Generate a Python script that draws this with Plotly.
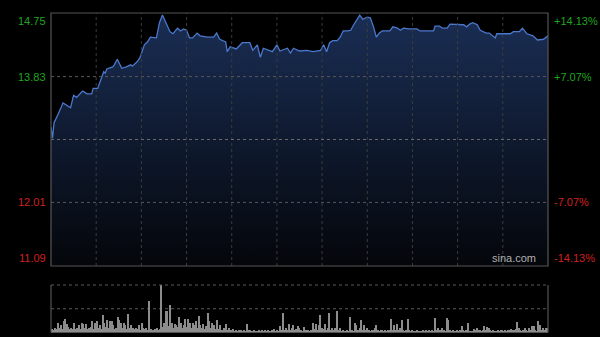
import plotly.graph_objects as go

# ---- data ----
minutes = [0, 1, 2, 4, 5, 8, 11, 13, 15, 17, 21, 24, 27, 28, 31, 33, 35, 36, 37, 41,
           42, 44, 45, 47, 50, 53, 54, 57, 59, 61, 62, 64, 66, 70, 72, 74, 77, 79, 81, 84,
           86, 88, 90, 92, 94, 97, 99, 104, 108, 110, 112, 116, 117, 119, 123, 127, 132, 134, 137, 139,
           141, 145, 147, 150, 152, 157, 159, 161, 165, 170, 174, 179, 181, 183, 185, 187, 190, 192, 194, 197,
           199, 201, 203, 205, 207, 210, 212, 214, 216, 218, 220, 225, 227, 230, 232, 234, 238, 243, 245, 250,
           254, 255, 258, 260, 263, 265, 270, 274, 276, 278, 280, 283, 285, 287, 289, 291, 293, 295, 296, 300,
           305, 307, 311, 313, 316, 320, 323, 327, 329, 330]
prices = [13.10, 12.94, 13.16, 13.27, 13.30, 13.45, 13.40, 13.38, 13.56, 13.53, 13.62, 13.58, 13.58, 13.66, 13.66, 13.78, 13.90, 13.88, 13.94, 13.97,
          14.00, 14.08, 14.04, 13.95, 13.97, 14.00, 13.98, 14.04, 14.10, 14.21, 14.29, 14.33, 14.40, 14.39, 14.61, 14.72, 14.58, 14.48, 14.45, 14.53,
          14.49, 14.52, 14.50, 14.39, 14.39, 14.46, 14.42, 14.40, 14.40, 14.46, 14.37, 14.33, 14.19, 14.26, 14.23, 14.32, 14.32, 14.21, 14.29, 14.11,
          14.24, 14.21, 14.19, 14.29, 14.20, 14.24, 14.17, 14.24, 14.20, 14.21, 14.19, 14.21, 14.29, 14.19, 14.32, 14.35, 14.35, 14.40, 14.49, 14.49,
          14.50, 14.58, 14.66, 14.72, 14.66, 14.69, 14.68, 14.56, 14.40, 14.46, 14.49, 14.49, 14.55, 14.53, 14.50, 14.53, 14.52, 14.52, 14.49, 14.49,
          14.49, 14.56, 14.56, 14.53, 14.53, 14.59, 14.59, 14.58, 14.55, 14.59, 14.61, 14.58, 14.50, 14.48, 14.46, 14.46, 14.42, 14.39, 14.45, 14.45,
          14.45, 14.48, 14.48, 14.53, 14.45, 14.42, 14.36, 14.37, 14.40, 14.42]

volume = [3, 2, 4, 3, 9, 4, 7, 3, 11, 13,
          8, 5, 3, 4, 3, 9, 3, 4, 7, 3,
          9, 8, 4, 8, 3, 4, 5, 11, 3, 9,
          11, 4, 7, 3, 17, 9, 5, 12, 4, 11,
          11, 7, 3, 4, 15, 12, 9, 4, 9, 7,
          3, 18, 4, 7, 4, 3, 4, 3, 7, 2,
          9, 4, 3, 4, 2, 31, 3, 2, 2, 3,
          4, 2, 3, 47, 5, 9, 21, 21, 6, 27,
          9, 4, 8, 7, 5, 15, 9, 4, 7, 13,
          5, 13, 9, 4, 9, 7, 11, 4, 16, 7,
          4, 8, 3, 6, 19, 11, 4, 9, 7, 3,
          12, 3, 7, 2, 2, 4, 8, 2, 4, 2,
          2, 3, 1, 2, 1, 2, 2, 1, 2, 1,
          8, 2, 2, 1, 1, 2, 1, 1, 2, 1,
          2, 1, 2, 1, 2, 1, 1, 2, 3, 1,
          2, 1, 6, 2, 19, 2, 4, 2, 8, 2,
          4, 7, 2, 3, 6, 4, 2, 1, 5, 2,
          2, 2, 1, 2, 9, 3, 8, 2, 7, 17,
          4, 3, 8, 2, 4, 19, 2, 4, 2, 4,
          21, 2, 4, 1, 2, 1, 1, 2, 1, 15,
          2, 1, 9, 7, 2, 4, 12, 2, 7, 2,
          4, 2, 1, 2, 2, 4, 7, 2, 1, 2,
          2, 1, 2, 1, 2, 2, 13, 2, 7, 2,
          8, 2, 4, 12, 2, 1, 2, 13, 2, 1,
          2, 1, 1, 2, 1, 1, 1, 2, 1, 2,
          1, 2, 1, 2, 1, 14, 2, 4, 2, 2,
          4, 2, 1, 14, 12, 2, 1, 2, 1, 1,
          2, 1, 2, 6, 2, 1, 2, 9, 1, 1,
          1, 3, 2, 4, 2, 2, 1, 2, 6, 2,
          5, 4, 2, 1, 2, 1, 1, 2, 1, 2,
          2, 1, 2, 1, 2, 2, 3, 2, 2, 3,
          10, 4, 2, 1, 2, 4, 2, 1, 4, 2,
          6, 6, 2, 1, 11, 7, 2, 4, 2, 4,
          4]
vol_minutes = list(range(len(volume)))

prev_close = 12.92
price_ticks = [14.75, 13.83, 12.01, 11.09]
price_labels = ["14.75", "13.83", "12.01", "11.09"]
pct_labels = ["+14.13%", "+7.07%", "-7.07%", "-14.13%"]
time_grid = [30, 60, 90, 120, 150, 180, 210, 240, 270, 300]

y_min, y_max = 11.09, 14.75
t_max = 330

# ---- figure ----
GREEN = "#1fa61f"
RED = "#d02020"

fig = go.Figure()
fig.add_trace(go.Scatter(
    x=minutes, y=prices, mode="lines",
    line=dict(color="#4a78cc", width=1.3),
    fill="tozeroy",
    fillgradient=dict(type="vertical", start=y_min, stop=y_max,
                      colorscale=[[0, "#04060a"], [1, "#1a2e55"]]),
    xaxis="x", yaxis="y", hoverinfo="skip", showlegend=False,
))
fig.add_trace(go.Bar(
    x=vol_minutes, y=volume, width=0.75,
    marker=dict(color="#8c8c8c", line=dict(width=0)),
    xaxis="x2", yaxis="y2", hoverinfo="skip", showlegend=False,
))

x_dom = [51 / 600, 548 / 600]
y_dom_main = [(337 - 266) / 337, (337 - 13) / 337]
y_dom_vol = [(337 - 332.5) / 337, (337 - 285) / 337]

fig.update_layout(
    width=600, height=337,
    margin=dict(l=0, r=0, t=0, b=0),
    paper_bgcolor="#000000", plot_bgcolor="#000000",
    font=dict(family="Liberation Sans, Arial, sans-serif", size=11),
    xaxis=dict(domain=x_dom, range=[0, t_max], showgrid=False, zeroline=False,
               showticklabels=False, showline=False, fixedrange=True),
    yaxis=dict(domain=y_dom_main, range=[y_min, y_max], showgrid=False, zeroline=False,
               showticklabels=False, showline=False, fixedrange=True),
    xaxis2=dict(domain=x_dom, range=[-0.5, t_max + 0.5], anchor="y2", showgrid=False,
                zeroline=False, showticklabels=False, showline=False),
    yaxis2=dict(domain=y_dom_vol, range=[0, max(volume)], anchor="x2", showgrid=False,
                zeroline=False, showticklabels=False, showline=False),
    bargap=0,
)

shapes = []
# vertical time grid (main)
for t in time_grid:
    shapes.append(dict(type="line", xref="x", yref="y domain", x0=t, x1=t, y0=0, y1=1,
                       line=dict(color="#3c3c3c", width=1, dash="dot"), layer="above"))
# horizontal price grid
for v in [13.83, 12.01]:
    shapes.append(dict(type="line", xref="x domain", yref="y", x0=0, x1=1, y0=v, y1=v,
                       line=dict(color="#5a5a5a", width=1, dash="dot"), layer="above"))
shapes.append(dict(type="line", xref="x domain", yref="y", x0=0, x1=1, y0=prev_close, y1=prev_close,
                   line=dict(color="#6a6a6a", width=1, dash="dot"), layer="above"))
# main border
shapes.append(dict(type="rect", xref="x domain", yref="y domain", x0=0, x1=1, y0=0, y1=1,
                   line=dict(color="#555555", width=1.2), layer="above"))
# volume panel frame
shapes.append(dict(type="line", xref="x2 domain", yref="y2 domain", x0=0, x1=1, y0=1, y1=1,
                   line=dict(color="#5a5a5a", width=1, dash="dot"), layer="above"))
shapes.append(dict(type="line", xref="x2 domain", yref="y2 domain", x0=0, x1=1, y0=0.5, y1=0.5,
                   line=dict(color="#5a5a5a", width=1, dash="dot"), layer="below"))
for x0 in [0, 1]:
    shapes.append(dict(type="line", xref="x2 domain", yref="y2 domain", x0=x0, x1=x0, y0=0, y1=1,
                       line=dict(color="#555555", width=1.2), layer="above"))
shapes.append(dict(type="line", xref="x2 domain", yref="y2 domain", x0=0, x1=1, y0=0, y1=0,
                   line=dict(color="#555555", width=1.2), layer="above"))
fig.update_layout(shapes=shapes)

annotations = []
anchors = ["top", "middle", "middle", "bottom"]
for v, lab, pct, anc in zip(price_ticks, price_labels, pct_labels, anchors):
    col = GREEN if v > prev_close else RED
    annotations.append(dict(xref="paper", yref="y", x=48.5 / 600, y=v, text=lab, showarrow=False,
                            xanchor="right", yanchor=anc, font=dict(color=col, size=11)))
    annotations.append(dict(xref="paper", yref="y", x=552 / 600, y=v, text=pct, showarrow=False,
                            xanchor="left", yanchor=anc, font=dict(color=col, size=11)))
annotations.append(dict(xref="paper", yref="y", x=538 / 600, y=y_min, text="sina.com", showarrow=False,
                        xanchor="right", yanchor="bottom", font=dict(color="#b0b0b0", size=11)))
fig.update_layout(annotations=annotations)

fig.write_html("out.html")
